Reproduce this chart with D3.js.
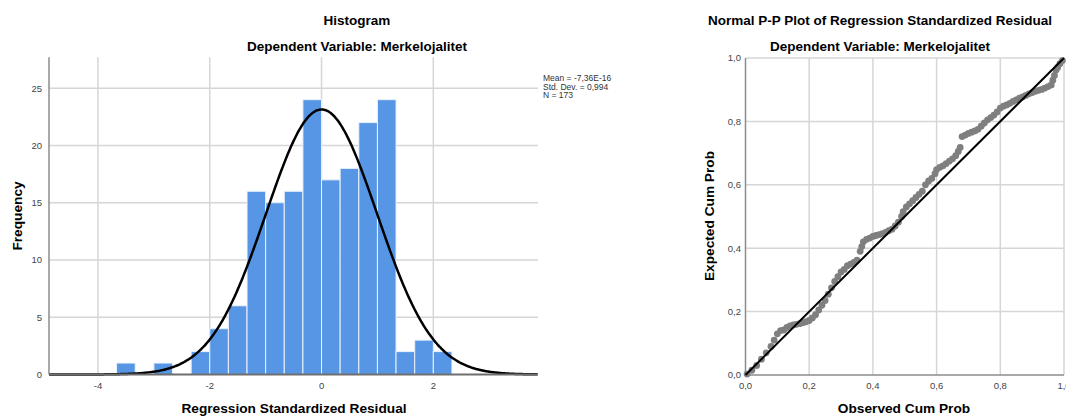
<!DOCTYPE html>
<html>
<head>
<meta charset="utf-8">
<script src="https://cdn.jsdelivr.net/npm/d3@7"></script>
<style>
  body { margin: 0; background: #fff; }
  svg { display: block; font-family: "Liberation Sans", Arial, sans-serif; }
</style>
</head>
<body>
<svg id="chart" width="1066" height="416"></svg>
<script>
// Histogram data: lower bin edges (bin width 1/3) and counts
const binWidth = 1 / 3;
const binLower = [-3.667, -3.0, -2.333, -2.0, -1.667, -1.333, -1.0, -0.667, -0.333,
  0.0, 0.333, 0.667, 1.0, 1.333, 1.667, 2.0];
const binCounts = [1, 1, 2, 4, 6, 16, 15, 16, 24, 17, 18, 22, 24, 2, 3, 2];
const histXTicks = [-4, -2, 0, 2];
const histYTicks = [0, 5, 10, 15, 20, 25];

// Summary statistics shown in the legend (used for the normal curve)
const statMean = -7.36e-16;
const statSd = 0.994;
const statN = 173;
const legendLines = ["Mean = -7,36E-16", "Std. Dev. = 0,994", "N = 173"];

// P-P plot points: observed vs expected cum prob
const ppObserved = [0.005, 0.02, 0.035, 0.05, 0.065, 0.08, 0.09, 0.1, 0.11, 0.12,
  0.13, 0.14, 0.15, 0.16, 0.17, 0.18, 0.19, 0.2, 0.21, 0.22,
  0.23, 0.24, 0.25, 0.26, 0.27, 0.28, 0.29, 0.3, 0.31, 0.32,
  0.33, 0.34, 0.35, 0.36, 0.365, 0.37, 0.38, 0.39, 0.4, 0.41,
  0.42, 0.43, 0.44, 0.45, 0.46, 0.47, 0.48, 0.49, 0.495, 0.505,
  0.515, 0.525, 0.535, 0.545, 0.555, 0.565, 0.575, 0.585, 0.595, 0.6,
  0.61, 0.62, 0.63, 0.64, 0.65, 0.66, 0.668, 0.674, 0.68, 0.69,
  0.7, 0.71, 0.72, 0.73, 0.74, 0.75, 0.76, 0.77, 0.78, 0.79,
  0.8, 0.81, 0.82, 0.83, 0.84, 0.85, 0.86, 0.87, 0.88, 0.89,
  0.9, 0.91, 0.92, 0.93, 0.94, 0.95, 0.96, 0.965, 0.97, 0.975,
  0.98, 0.987, 0.995];
const ppExpected = [0.003, 0.015, 0.03, 0.05, 0.07, 0.09, 0.11, 0.13, 0.14, 0.142,
  0.15, 0.155, 0.158, 0.16, 0.162, 0.165, 0.168, 0.172, 0.18, 0.19,
  0.205, 0.22, 0.235, 0.255, 0.275, 0.295, 0.31, 0.325, 0.333, 0.345,
  0.35, 0.355, 0.362, 0.39, 0.405, 0.42, 0.428, 0.432, 0.437, 0.44,
  0.443, 0.446, 0.45, 0.455, 0.46, 0.47, 0.482, 0.5, 0.515, 0.53,
  0.54, 0.55, 0.56, 0.57, 0.58, 0.6, 0.612, 0.62, 0.635, 0.648,
  0.655, 0.66, 0.667, 0.675, 0.682, 0.692, 0.705, 0.718, 0.752, 0.757,
  0.762, 0.766, 0.77, 0.775, 0.785, 0.795, 0.805, 0.812, 0.82, 0.83,
  0.842, 0.848, 0.852, 0.857, 0.863, 0.868, 0.873, 0.877, 0.882, 0.887,
  0.891, 0.895, 0.898, 0.901, 0.905, 0.91, 0.915, 0.93, 0.945, 0.962,
  0.97, 0.982, 0.992];
const ppTicks = [0, 0.2, 0.4, 0.6, 0.8, 1.0];

const svg = d3.select("#chart");
const gridColor = "#d6d6d6";
const axisColor = "#8c8c8c";
const tickColor = "#444";
const titleSize = 13.5;
const labelSize = 13.7;
const tickSize = 9.5;
const fmtComma = (v) => d3.format(".1f")(v).replace(".", ",");

// ---------------- Histogram ----------------
const hx = d3.scaleLinear().domain([-4.876, 3.873]).range([49, 538]);
const hy = d3.scaleLinear().domain([0, 27.7]).range([374.5, 57.3]);
const hist = svg.append("g");

// gridlines
hist.selectAll(".vgrid").data(histXTicks).enter().append("line")
  .attr("x1", (d) => hx(d)).attr("x2", (d) => hx(d))
  .attr("y1", hy.range()[1]).attr("y2", hy(0))
  .attr("stroke", gridColor).attr("stroke-width", 1.5);
hist.selectAll(".hgrid").data(histYTicks.slice(1)).enter().append("line")
  .attr("x1", hx.range()[0]).attr("x2", hx.range()[1])
  .attr("y1", (d) => hy(d)).attr("y2", (d) => hy(d))
  .attr("stroke", gridColor).attr("stroke-width", 1.5);

// bars
hist.selectAll("rect").data(binLower).enter().append("rect")
  .attr("x", (d) => hx(d))
  .attr("width", (d) => hx(d + binWidth) - hx(d))
  .attr("y", (d, i) => hy(binCounts[i]))
  .attr("height", (d, i) => hy(0) - hy(binCounts[i]))
  .attr("fill", "#5796e4")
  .attr("stroke", "#eaf2fc")
  .attr("stroke-width", 1);

// normal curve from legend statistics
const curveX = d3.range(hx.domain()[0], hx.domain()[1] + 0.001, 0.02);
const normal = (x) => statN * binWidth *
  Math.exp(-0.5 * Math.pow((x - statMean) / statSd, 2)) / (statSd * Math.sqrt(2 * Math.PI));
hist.append("path")
  .datum(curveX)
  .attr("d", d3.line().x((d) => hx(d)).y((d) => hy(normal(d))).curve(d3.curveBasis))
  .attr("fill", "none").attr("stroke", "#000").attr("stroke-width", 2.5);

// axis lines
hist.append("line").attr("x1", hx.range()[0]).attr("x2", hx.range()[0])
  .attr("y1", hy.range()[1]).attr("y2", hy(0))
  .attr("stroke", axisColor).attr("stroke-width", 1.5);
hist.append("line").attr("x1", hx.range()[0]).attr("x2", hx.range()[1])
  .attr("y1", hy(0)).attr("y2", hy(0))
  .attr("stroke", "#6e6e6e").attr("stroke-width", 2);

// tick labels
hist.selectAll(".xt").data(histXTicks).enter().append("text")
  .attr("x", (d) => hx(d)).attr("y", 389)
  .attr("text-anchor", "middle").attr("font-size", tickSize).attr("fill", tickColor)
  .text((d) => d);
hist.selectAll(".yt").data(histYTicks).enter().append("text")
  .attr("x", 42).attr("y", (d) => hy(d) + 3.3)
  .attr("text-anchor", "end").attr("font-size", tickSize).attr("fill", tickColor)
  .text((d) => d);

// titles
hist.append("text").attr("x", 357).attr("y", 25).attr("text-anchor", "middle")
  .attr("font-size", titleSize).attr("font-weight", "bold").text("Histogram");
hist.append("text").attr("x", 357).attr("y", 51).attr("text-anchor", "middle")
  .attr("font-size", titleSize).attr("font-weight", "bold").text("Dependent Variable: Merkelojalitet");
hist.append("text").attr("x", 294).attr("y", 413).attr("text-anchor", "middle")
  .attr("font-size", labelSize).attr("font-weight", "bold").text("Regression Standardized Residual");
hist.append("text").attr("transform", "translate(22,216) rotate(-90)")
  .attr("text-anchor", "middle")
  .attr("font-size", labelSize).attr("font-weight", "bold").text("Frequency");

// legend
hist.selectAll(".leg").data(legendLines).enter().append("text")
  .attr("x", 543).attr("y", (d, i) => 81 + i * 8.5)
  .attr("font-size", 8.5).attr("fill", "#333")
  .text((d) => d);

// ---------------- P-P plot ----------------
const px = d3.scaleLinear().domain([0, 1]).range([745.5, 1064]);
const py = d3.scaleLinear().domain([0, 1]).range([375, 58]);
const pp = svg.append("g");

pp.selectAll(".vgrid").data(ppTicks.slice(1)).enter().append("line")
  .attr("x1", (d) => px(d)).attr("x2", (d) => px(d))
  .attr("y1", py(1)).attr("y2", py(0))
  .attr("stroke", gridColor).attr("stroke-width", 1.5);
pp.selectAll(".hgrid").data(ppTicks.slice(1)).enter().append("line")
  .attr("x1", px(0)).attr("x2", px(1))
  .attr("y1", (d) => py(d)).attr("y2", (d) => py(d))
  .attr("stroke", gridColor).attr("stroke-width", 1.5);

pp.append("line").attr("x1", px(0)).attr("x2", px(0))
  .attr("y1", py(1)).attr("y2", py(0))
  .attr("stroke", axisColor).attr("stroke-width", 1.5);
pp.append("line").attr("x1", px(0)).attr("x2", px(1))
  .attr("y1", py(0)).attr("y2", py(0))
  .attr("stroke", axisColor).attr("stroke-width", 1.5);

// points
pp.selectAll("circle").data(ppObserved).enter().append("circle")
  .attr("cx", (d) => px(d))
  .attr("cy", (d, i) => py(ppExpected[i]))
  .attr("r", 3.4)
  .attr("fill", "#7f7f7f");

// reference line
pp.append("line").attr("x1", px(0)).attr("y1", py(0))
  .attr("x2", px(1)).attr("y2", py(1))
  .attr("stroke", "#000").attr("stroke-width", 2);

pp.selectAll(".xt").data(ppTicks).enter().append("text")
  .attr("x", (d) => px(d)).attr("y", 389)
  .attr("text-anchor", "middle").attr("font-size", tickSize).attr("fill", tickColor)
  .text((d) => fmtComma(d));
pp.selectAll(".yt").data(ppTicks).enter().append("text")
  .attr("x", 741).attr("y", (d) => py(d) + 3.3)
  .attr("text-anchor", "end").attr("font-size", tickSize).attr("fill", tickColor)
  .text((d) => fmtComma(d));

pp.append("text").attr("x", 880).attr("y", 25).attr("text-anchor", "middle")
  .attr("font-size", titleSize).attr("font-weight", "bold")
  .text("Normal P-P Plot of Regression Standardized Residual");
pp.append("text").attr("x", 880).attr("y", 51).attr("text-anchor", "middle")
  .attr("font-size", titleSize).attr("font-weight", "bold").text("Dependent Variable: Merkelojalitet");
pp.append("text").attr("x", 904).attr("y", 413).attr("text-anchor", "middle")
  .attr("font-size", labelSize).attr("font-weight", "bold").text("Observed Cum Prob");
pp.append("text").attr("transform", "translate(714,216) rotate(-90)")
  .attr("text-anchor", "middle")
  .attr("font-size", labelSize).attr("font-weight", "bold").text("Expected Cum Prob");
</script>
</body>
</html>
